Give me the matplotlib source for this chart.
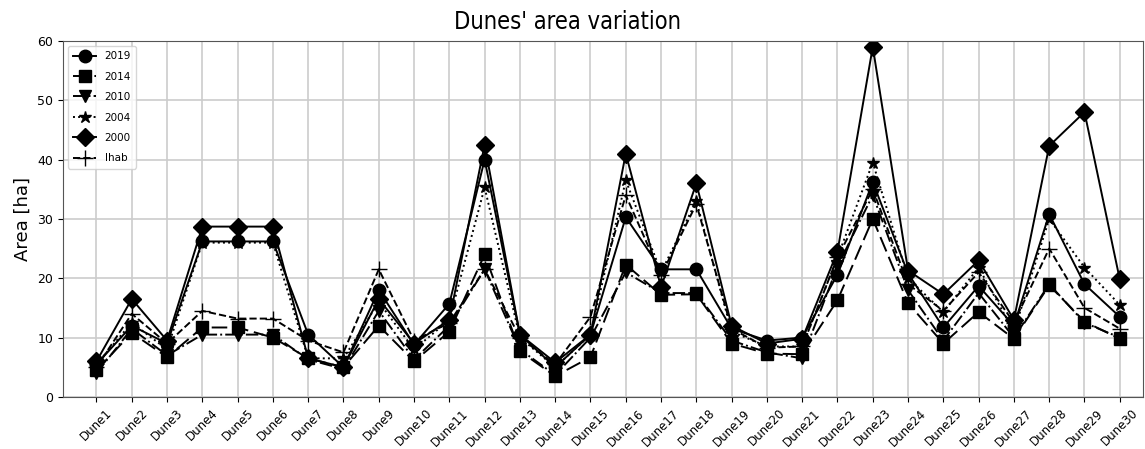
import matplotlib
matplotlib.use("Agg")
import matplotlib.pyplot as plt

dunes = ["Dune%d" % i for i in range(1, 31)]

a2019 = [5.5, 12.0, 9.0, 26.2, 26.2, 26.2, 10.5, 5.0, 18.0, 8.8,
         15.7, 40.0, 10.5, 5.0, 10.5, 30.3, 21.5, 21.5, 11.5, 9.5,
         10.0, 20.6, 36.2, 20.8, 11.7, 18.7, 12.0, 30.8, 19.0, 13.5]
a2014 = [4.5, 10.8, 6.7, 11.7, 11.7, 10.0, 6.5, 5.0, 12.0, 6.0,
         11.0, 24.0, 7.7, 3.5, 6.7, 22.3, 17.2, 17.3, 9.0, 7.3,
         7.2, 16.3, 30.0, 15.8, 9.0, 14.3, 9.8, 18.8, 12.7, 9.8]
a2010 = [4.0, 11.5, 7.0, 10.5, 10.5, 10.5, 6.3, 4.7, 14.5, 6.3,
         12.0, 21.5, 8.0, 3.7, 10.0, 21.0, 17.5, 17.5, 9.5, 7.5,
         6.5, 22.0, 34.0, 18.0, 9.5, 17.5, 10.0, 19.0, 12.5, 10.0]
a2004 = [5.5, 12.5, 8.0, 26.0, 26.0, 26.0, 6.5, 6.5, 16.0, 8.0,
         13.0, 35.3, 10.0, 5.0, 10.5, 36.5, 21.0, 33.0, 11.0, 8.5,
         8.5, 23.5, 39.5, 20.0, 14.3, 21.8, 11.0, 30.0, 21.8, 15.5]
a2000 = [6.0, 16.5, 9.5, 28.7, 28.7, 28.7, 6.5, 5.0, 16.5, 9.0,
         13.0, 42.5, 10.5, 5.8, 10.5, 41.0, 18.5, 36.0, 12.0, 9.0,
         9.8, 24.5, 59.0, 21.3, 17.3, 23.0, 13.0, 42.3, 48.0, 19.8]
ihab = [5.0, 14.0, 9.0, 14.5, 13.2, 13.2, 9.5, 7.5, 21.5, 9.5,
        12.5, 21.5, 10.0, 5.5, 13.5, 34.0, 20.5, 32.5, 11.5, 8.3,
        8.5, 23.5, 35.0, 19.0, 14.5, 21.0, 12.5, 25.0, 15.0, 11.5]

fig = plt.figure(figsize=(11.45, 4.49), dpi=100)
ax = fig.add_axes([0.055, 0.116, 0.943, 0.793])

x = range(len(dunes))
ax.plot(x, a2019, color="black", linestyle="-", marker="o", markersize=9, lw=1.4, label="2019")
ax.plot(x, a2014, color="black", linestyle=(0, (8, 3)), marker="s", markersize=9, lw=1.4, label="2014")
ax.plot(x, a2010, color="black", linestyle="-.", marker="v", markersize=9, lw=1.4, label="2010")
ax.plot(x, a2004, color="black", linestyle=":", marker="*", markersize=9, lw=1.4, label="2004")
ax.plot(x, a2000, color="black", linestyle="-", marker="D", markersize=9, lw=1.4, label="2000")
ax.plot(x, ihab, color="black", linestyle="--", marker="+", markersize=11, lw=1.4, label="Ihab")

ax.set_xticks(list(x))
ax.set_xticklabels(dunes, rotation=45, fontsize=8.5)
ax.set_xlim(-0.95, 29.65)
ax.set_ylim(0, 60)
ax.set_yticks(range(0, 61, 10))
ax.tick_params(axis="y", labelsize=9)
ax.grid(True, color="#cccccc", linewidth=1.2)
ax.set_axisbelow(True)
for s in ax.spines.values():
    s.set_color("#555555")
ax.set_ylabel("Area [ha]", fontsize=13)
fig.text(0.496, 0.95, "Dunes' area variation", fontsize=17, ha="center", va="center",
         family="DejaVu Sans", fontstretch="condensed")
ax.legend(loc="upper left", fontsize=7.5, handlelength=2.2, borderpad=0.5, labelspacing=1.0)

fig.savefig("out.png", dpi=100)
